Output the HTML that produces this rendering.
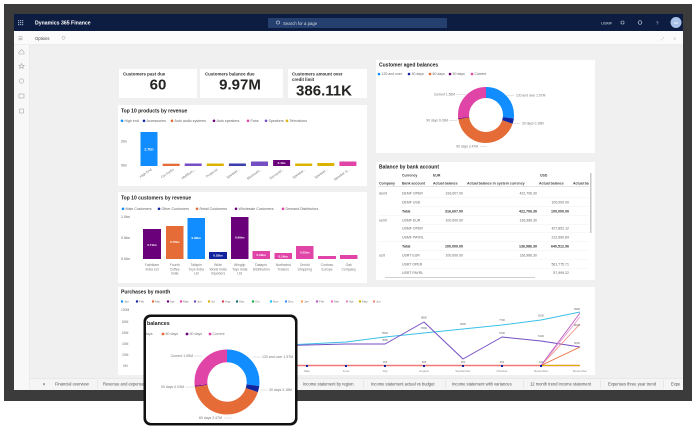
<!DOCTYPE html>
<html><head><meta charset="utf-8"><style>
html,body{margin:0;padding:0;background:#fff;width:696px;height:429px;overflow:hidden}
svg{display:block;font-family:"Liberation Sans",sans-serif}
</style></head><body>
<svg width="696" height="429" viewBox="0 0 696 429" xmlns="http://www.w3.org/2000/svg">
<defs>
<clipPath id="tab"><rect x="146" y="317" width="149" height="106" rx="5"/></clipPath>
<clipPath id="tbl"><rect x="376" y="162" width="213" height="118"/></clipPath>
</defs>
<rect width="696" height="429" fill="#fff"/>
<!-- monitor frame -->
<rect x="4" y="4" width="688" height="397" fill="#3b3b3b"/>
<rect x="14" y="14" width="669" height="376" fill="#f0f0f0"/>
<!-- top nav bar -->
<rect x="14" y="14" width="669" height="17" fill="#0d1d42"/>
<g fill="#9aa6c0">
<rect x="18" y="20" width="1.2" height="1.2"/><rect x="20" y="20" width="1.2" height="1.2"/><rect x="22" y="20" width="1.2" height="1.2"/>
<rect x="18" y="22" width="1.2" height="1.2"/><rect x="20" y="22" width="1.2" height="1.2"/><rect x="22" y="22" width="1.2" height="1.2"/>
<rect x="18" y="24" width="1.2" height="1.2"/><rect x="20" y="24" width="1.2" height="1.2"/><rect x="22" y="24" width="1.2" height="1.2"/>
</g>
<text x="35" y="24.5" font-size="5.2" font-weight="bold" fill="#fff">Dynamics 365 Finance</text>
<rect x="268" y="18" width="179" height="10" fill="#253f6e"/>
<circle cx="278" cy="22.5" r="1.6" fill="none" stroke="#c9d2e3" stroke-width="0.6"/>
<text x="283" y="24.8" font-size="4.3" fill="#d5dbe8">Search for a page</text>
<text x="601" y="24.5" font-size="4" fill="#d5dbe8">USMF</text>
<rect x="621" y="21" width="3" height="3" fill="none" stroke="#c9d2e3" stroke-width="0.6" rx="1"/>
<circle cx="640" cy="22.5" r="1.8" fill="none" stroke="#c9d2e3" stroke-width="0.7"/>
<text x="656" y="24.5" font-size="4.5" fill="#d5dbe8">?</text>
<circle cx="676" cy="22.5" r="5.5" fill="#a9c2e8"/>
<text x="676" y="24" font-size="3" fill="#fff" text-anchor="middle">AD</text>
<!-- options bar -->
<rect x="14" y="31" width="669" height="14" fill="#fbfbfb"/>
<rect x="14" y="44.5" width="669" height="0.7" fill="#e2e2e2"/>
<g fill="#9a9a9a"><rect x="18.5" y="36.5" width="4" height="0.6"/><rect x="18.5" y="38" width="4" height="0.6"/><rect x="18.5" y="39.5" width="4" height="0.6"/></g>
<text x="35" y="39.8" font-size="4.2" fill="#444">Options</text>
<circle cx="63.5" cy="37.8" r="1.5" fill="none" stroke="#aaa" stroke-width="0.5"/>
<text x="661" y="40" font-size="4" fill="#bbb">⤢</text>
<text x="673" y="40" font-size="4" fill="#bbb">✕</text>
<!-- left sidebar -->
<rect x="14" y="45" width="15" height="345" fill="#f8f8f8"/>
<rect x="29" y="45" width="0.6" height="345" fill="#e6e6e6"/>
<g fill="none" stroke="#a8a8a8" stroke-width="0.6">
<path d="M19 52 L21.5 49.5 L24 52 V54 H19 Z"/>
<path d="M21.5 63.5 L22.3 65.3 L24.2 65.4 L22.8 66.6 L23.3 68.4 L21.5 67.4 L19.7 68.4 L20.2 66.6 L18.8 65.4 L20.7 65.3 Z"/>
<circle cx="21.5" cy="81" r="2.2"/>
<rect x="19" y="94" width="5" height="4"/>
<rect x="19.5" y="109" width="4" height="4"/>
</g>
<!-- tab bar -->
<rect x="29.6" y="378" width="653.4" height="12" fill="#f5f5f5"/>
<rect x="29.6" y="378" width="653.4" height="0.6" fill="#e0e0e0"/>
<g font-size="4.1" fill="#555">
<text x="43" y="385.5">▾</text>
<text x="55" y="385.5">Financial overview</text>
<text x="103" y="385.5">Revenue and expenses</text>
<text x="303" y="385.5">Income statement by region</text>
<text x="371" y="385.5">Income statement actual vs budget</text>
<text x="452" y="385.5">Income statement with variances</text>
<text x="530" y="385.5">12 month trend income statement</text>
<text x="608" y="385.5">Expenses three year trend</text>
<text x="671" y="385.5">Expe</text>
</g>
<g fill="#d6d6d6"><rect x="97" y="380" width="0.5" height="8"/><rect x="363" y="380" width="0.5" height="8"/><rect x="445" y="380" width="0.5" height="8"/><rect x="523" y="380" width="0.5" height="8"/><rect x="600" y="380" width="0.5" height="8"/><rect x="663" y="380" width="0.5" height="8"/></g>

<!-- KPI cards -->
<rect x="119" y="69" width="78" height="29" fill="#fff"/>
<rect x="200" y="69" width="83" height="29" fill="#fff"/>
<rect x="288" y="69" width="79" height="29" fill="#fff"/>
<g font-size="4.4" font-weight="600" fill="#333">
<text x="123" y="75.5">Customers past due</text>
<text x="205" y="75.5">Customers balance due</text>
<text x="292" y="75.5">Customers amount over</text>
<text x="292" y="80.8">credit limit</text>
</g>
<g font-size="15" font-weight="bold" fill="#252423" text-anchor="middle">
<text x="158" y="89.5">60</text>
<text x="240" y="89.5">9.97M</text>
<text x="324" y="95.5" font-size="15">386.11K</text>
</g>

<!-- Top 10 products -->
<rect x="118" y="105" width="249" height="81" fill="#fff"/>
<text x="121" y="112.5" font-size="5" font-weight="bold" fill="#252423">Top 10 products by revenue</text>
<g font-size="3.6" fill="#666">
<circle cx="122" cy="120.8" r="1.3" fill="#118DFF"/><text x="124.5" y="122">High end</text>
<circle cx="144" cy="120.8" r="1.3" fill="#12239E"/><text x="146.5" y="122">Accessories</text>
<circle cx="172" cy="120.8" r="1.3" fill="#E66C37"/><text x="174.5" y="122">Auto audio systems</text>
<circle cx="214" cy="120.8" r="1.3" fill="#6B007B"/><text x="216.5" y="122">Auto speakers</text>
<circle cx="248" cy="120.8" r="1.3" fill="#E044A7"/><text x="250.5" y="122">Fans</text>
<circle cx="266" cy="120.8" r="1.3" fill="#744EC2"/><text x="268.5" y="122">Speakers</text>
<circle cx="287" cy="120.8" r="1.3" fill="#D9B300"/><text x="289.5" y="122">Televisions</text>
<text x="121" y="142.5">2bn</text>
<text x="121" y="166.5">0bn</text>
</g>
<g>
<rect x="140.5" y="132" width="17" height="34" fill="#118DFF"/>
<rect x="162.6" y="163.7" width="17" height="2.3" fill="#E66C37"/>
<rect x="184.7" y="163.5" width="17" height="2.5" fill="#744EC2"/>
<rect x="206.8" y="163.5" width="17" height="2.5" fill="#D9B300"/>
<rect x="228.9" y="163.5" width="17" height="2.5" fill="#3B3EAC"/>
<rect x="251" y="161.5" width="17" height="4.5" fill="#744EC2"/>
<rect x="273.1" y="160" width="17" height="6" fill="#6B007B"/>
<rect x="295.2" y="163.5" width="17" height="2.5" fill="#D9B300"/>
<rect x="317.3" y="163" width="17" height="3" fill="#D9B300"/>
<rect x="339.4" y="161.5" width="17" height="4.5" fill="#E044A7"/>
</g>
<text x="149" y="150.5" font-size="3.5" font-weight="bold" fill="#fff" text-anchor="middle">2.7bn</text>
<text x="281.6" y="164.2" font-size="3" font-weight="bold" fill="#fff" text-anchor="middle">0.4bn</text>
<g font-size="3.4" fill="#777" text-anchor="end">
<text transform="translate(152,170) rotate(-35)">High End</text>
<text transform="translate(174,170) rotate(-35)">Car Audio</text>
<text transform="translate(196,170) rotate(-35)">Multifunc...</text>
<text transform="translate(218,170) rotate(-35)">Projector</text>
<text transform="translate(240,170) rotate(-35)">Speaker...</text>
<text transform="translate(262,170) rotate(-35)">Bluetooth...</text>
<text transform="translate(284,170) rotate(-35)">Surround...</text>
<text transform="translate(306,170) rotate(-35)">Speaker...</text>
<text transform="translate(328,170) rotate(-35)">Speaker...</text>
<text transform="translate(350,170) rotate(-35)">Speaker S...</text>
</g>

<!-- Top 10 customers -->
<rect x="118" y="192" width="249" height="91" fill="#fff"/>
<text x="121" y="199.5" font-size="5" font-weight="bold" fill="#252423">Top 10 customers by revenue</text>
<g font-size="3.6" fill="#666">
<circle cx="123" cy="208.8" r="1.3" fill="#118DFF"/><text x="125.5" y="210">Main Customers</text>
<circle cx="159" cy="208.8" r="1.3" fill="#12239E"/><text x="161.5" y="210">Other Customers</text>
<circle cx="197" cy="208.8" r="1.3" fill="#E66C37"/><text x="199.5" y="210">Retail Customers</text>
<circle cx="236" cy="208.8" r="1.3" fill="#6B007B"/><text x="238.5" y="210">Wholesale Customers</text>
<circle cx="283" cy="208.8" r="1.3" fill="#E044A7"/><text x="285.5" y="210">Demand Distributors</text>
<text x="121" y="218">1.0bn</text>
<text x="121" y="239">0.5bn</text>
<text x="121" y="260">0.0bn</text>
</g>
<g>
<rect x="143" y="229" width="18" height="30" fill="#6B007B"/>
<rect x="166" y="226" width="17.5" height="33" fill="#E66C37"/>
<rect x="187.5" y="218" width="17.5" height="41" fill="#118DFF"/>
<rect x="209" y="252" width="18" height="7" fill="#12239E"/>
<rect x="231" y="217" width="17.5" height="42" fill="#6B007B"/>
<rect x="252.5" y="251" width="17.5" height="8" fill="#E044A7"/>
<rect x="274.5" y="253" width="17.5" height="6" fill="#E044A7"/>
<rect x="296" y="246" width="17.5" height="13" fill="#E044A7"/>
<rect x="318" y="256" width="18" height="3" fill="#E044A7"/>
<rect x="340" y="255" width="17.5" height="4" fill="#E044A7"/>
</g>
<g font-size="3" font-weight="bold" fill="#fff" text-anchor="middle">
<text x="152" y="246">0.71bn</text>
<text x="174.7" y="243">0.75bn</text>
<text x="196.2" y="239">0.96bn</text>
<text x="218" y="256.5">0.18bn</text>
<text x="239.7" y="238.5">0.99bn</text>
<text x="261.2" y="256">0.19bn</text>
<text x="283.2" y="257.5">0.14bn</text>
<text x="304.7" y="253.5">0.32bn</text>
</g>
<g font-size="3.4" fill="#777" text-anchor="middle">
<text x="152" y="266">Fabrikam</text><text x="152" y="270.3">India Ltd</text>
<text x="174.7" y="266">Fourth</text><text x="174.7" y="270.3">Coffee</text><text x="174.7" y="274.6">India</text>
<text x="196.2" y="266">Tailspin</text><text x="196.2" y="270.3">Toys India</text><text x="196.2" y="274.6">Ltd</text>
<text x="218" y="266">Wide</text><text x="218" y="270.3">World India</text><text x="218" y="274.6">Importers</text>
<text x="239.7" y="266">Wingtip</text><text x="239.7" y="270.3">Toys India</text><text x="239.7" y="274.6">Ltd</text>
<text x="261.2" y="266">Datapro</text><text x="261.2" y="270.3">Distribution</text>
<text x="283.2" y="266">Northwind</text><text x="283.2" y="270.3">Traders</text>
<text x="304.7" y="266">Orchid</text><text x="304.7" y="270.3">Shopping</text>
<text x="327" y="266">Contoso</text><text x="327" y="270.3">Europe</text>
<text x="348.7" y="266">Oak</text><text x="348.7" y="270.3">Company</text>
</g>

<!-- Customer aged balances -->
<rect x="376" y="60" width="219" height="93" fill="#fff"/>
<text x="379" y="66.5" font-size="5" font-weight="bold" fill="#252423">Customer aged balances</text>
<g font-size="3.5" fill="#666">
<circle cx="379" cy="74" r="1.3" fill="#118DFF"/><text x="381.5" y="75.2">120 and over</text>
<circle cx="409" cy="74" r="1.3" fill="#12239E"/><text x="411.5" y="75.2">30 days</text>
<circle cx="430" cy="74" r="1.3" fill="#E66C37"/><text x="432.5" y="75.2">60 days</text>
<circle cx="450" cy="74" r="1.3" fill="#6B007B"/><text x="452.5" y="75.2">90 days</text>
<circle cx="472" cy="74" r="1.3" fill="#E044A7"/><text x="474.5" y="75.2">Current</text>
</g>
<g fill="none" stroke-width="11" transform="rotate(-90 486 115)">
<circle cx="486" cy="115" r="22.5" stroke="#118DFF" stroke-dasharray="38.09 200" stroke-dashoffset="0"/>
<circle cx="486" cy="115" r="22.5" stroke="#12239E" stroke-dasharray="4.32 200" stroke-dashoffset="-38.09"/>
<circle cx="486" cy="115" r="22.5" stroke="#E66C37" stroke-dasharray="60.08 200" stroke-dashoffset="-42.41"/>
<circle cx="486" cy="115" r="22.5" stroke="#6B007B" stroke-dasharray="0.79 200" stroke-dashoffset="-102.49"/>
<circle cx="486" cy="115" r="22.5" stroke="#E044A7" stroke-dasharray="38.1 200" stroke-dashoffset="-103.27"/>
</g>
<g stroke="#bbb" stroke-width="0.4">
<line x1="456" y1="94.3" x2="466" y2="94.3"/>
<line x1="505" y1="95.3" x2="514" y2="95.3"/>
<line x1="513" y1="123.5" x2="520" y2="123.5"/>
<line x1="449" y1="120.5" x2="457" y2="120.5"/>
<line x1="480" y1="146.5" x2="487" y2="146.5"/>
</g>
<g font-size="3.3" fill="#777">
<text x="455" y="95.5" text-anchor="end">Current 1.55M</text>
<text x="516" y="96.5">120 and over 1.57M</text>
<text x="522" y="124.7">30 days 0.18M</text>
<text x="448" y="121.7" text-anchor="end">90 days 0.03M</text>
<text x="478" y="147.7" text-anchor="end">60 days 2.47M</text>
</g>

<!-- Balance by bank account -->
<rect x="376" y="162" width="219" height="118" fill="#fff"/>
<text x="379" y="168.5" font-size="5" font-weight="bold" fill="#252423">Balance by bank account</text>
<g clip-path="url(#tbl)">
<g font-size="3.5" font-weight="600" fill="#444">
<text x="402" y="176.5">Currency</text>
<text x="433" y="176.5">EUR</text>
<text x="540" y="176.5">USD</text>
<text x="379" y="184.5">Company</text>
<text x="402" y="184.5">Bank account</text>
<text x="433" y="184.5">Actual balance</text>
<text x="467" y="184.5">Actual balance in system currency</text>
<text x="539" y="184.5">Actual balance</text>
<text x="573" y="184.5">Actual balance</text>
</g>
<rect x="378" y="186.5" width="212" height="0.5" fill="#ccc"/>
<g fill="#eee">
<rect x="400" y="197" width="190" height="0.4"/><rect x="400" y="206" width="190" height="0.4"/><rect x="378" y="215" width="212" height="0.4"/>
<rect x="400" y="224" width="190" height="0.4"/><rect x="400" y="232" width="190" height="0.4"/><rect x="378" y="241" width="212" height="0.4"/>
<rect x="400" y="250" width="190" height="0.4"/><rect x="400" y="259" width="190" height="0.4"/><rect x="400" y="268" width="190" height="0.4"/>
</g>
<g font-size="3.5" fill="#666">
<text x="379" y="194.5">demf</text>
<text x="379" y="221.5">usmf</text>
<text x="379" y="256.5">usrt</text>
<text x="402" y="194.5">DEMF OPER</text>
<text x="402" y="203.5">DEMF USD</text>
<text x="402" y="221.5">USMF EUR</text>
<text x="402" y="229.5">USMF OPER</text>
<text x="402" y="238.5">USMF PAYRL</text>
<text x="402" y="256.5">USRT EUR</text>
<text x="402" y="265.5">USRT OPER</text>
<text x="402" y="274">USRT PAYRL</text>
</g>
<g font-size="3.5" fill="#666" text-anchor="end">
<text x="463" y="194.5">316,607.00</text><text x="537" y="194.5">422,706.30</text>
<text x="569" y="203.5">100,000.00</text>
<text x="463" y="221.5">100,000.00</text><text x="537" y="221.5">136,986.30</text>
<text x="569" y="229.5">427,852.12</text>
<text x="569" y="238.5">212,660.84</text>
<text x="463" y="256.5">100,000.00</text><text x="537" y="256.5">136,986.30</text>
<text x="569" y="265.5">561,775.71</text>
<text x="569" y="274">57,999.22</text>
</g>
<g font-size="3.6" font-weight="bold" fill="#333">
<text x="402" y="212.5">Total</text>
<text x="463" y="212.5" text-anchor="end">316,607.00</text>
<text x="537" y="212.5" text-anchor="end">422,706.30</text>
<text x="569" y="212.5" text-anchor="end">100,000.00</text>
<text x="402" y="247.5">Total</text>
<text x="463" y="247.5" text-anchor="end">100,000.00</text>
<text x="537" y="247.5" text-anchor="end">136,986.30</text>
<text x="569" y="247.5" text-anchor="end">640,512.96</text>
</g>
</g>
<rect x="590" y="173" width="1.5" height="60" fill="#c8c8c8"/>
<rect x="385" y="277" width="150" height="1" fill="#d0d0d0"/>

<!-- Purchases by month -->
<rect x="118" y="287" width="477" height="88" fill="#fff"/>
<text x="121" y="293.5" font-size="5" font-weight="bold" fill="#252423">Purchases by month</text>
<g font-size="3" fill="#777">
<circle cx="122" cy="301.5" r="1.2" fill="#118DFF"/><text x="124" y="302.6">Jan</text>
<circle cx="137" cy="301.5" r="1.2" fill="#12239E"/><text x="139" y="302.6">Feb</text>
<circle cx="153" cy="301.5" r="1.2" fill="#E66C37"/><text x="155" y="302.6">Mar</text>
<circle cx="168" cy="301.5" r="1.2" fill="#6B007B"/><text x="170" y="302.6">Apr</text>
<circle cx="181" cy="301.5" r="1.2" fill="#E044A7"/><text x="183" y="302.6">May</text>
<circle cx="195" cy="301.5" r="1.2" fill="#744EC2"/><text x="197" y="302.6">Jun</text>
<circle cx="209" cy="301.5" r="1.2" fill="#D9B300"/><text x="211" y="302.6">Jul</text>
<circle cx="223" cy="301.5" r="1.2" fill="#D64550"/><text x="225" y="302.6">Aug</text>
<circle cx="237" cy="301.5" r="1.2" fill="#197278"/><text x="239" y="302.6">Sep</text>
<circle cx="253" cy="301.5" r="1.2" fill="#1AAB40"/><text x="255" y="302.6">Oct</text>
<circle cx="271" cy="301.5" r="1.2" fill="#15C6F4"/><text x="273" y="302.6">Nov</text>
<circle cx="286" cy="301.5" r="1.2" fill="#4092FF"/><text x="288" y="302.6">Dec</text>
<circle cx="302" cy="301.5" r="1.2" fill="#FFA058"/><text x="304" y="302.6">Jan</text>
<circle cx="317" cy="301.5" r="1.2" fill="#BE5DC9"/><text x="319" y="302.6">Feb</text>
<circle cx="332" cy="301.5" r="1.2" fill="#F472D0"/><text x="334" y="302.6">Mar</text>
<circle cx="347" cy="301.5" r="1.2" fill="#E88DC8"/><text x="349" y="302.6">Apr</text>
<circle cx="360" cy="301.5" r="1.2" fill="#D9B300"/><text x="362" y="302.6">May</text>
<circle cx="374" cy="301.5" r="1.2" fill="#F28B82"/><text x="376" y="302.6">Jun</text>
</g>
<g font-size="3.3" fill="#777">
<text x="121" y="311">100M</text>
<text x="122" y="323">80M</text>
<text x="122" y="334">60M</text>
<text x="122" y="345">40M</text>
<text x="122" y="356">20M</text>
<text x="123" y="367">0M</text>
</g>
<g fill="none" stroke-linejoin="round">
<polyline stroke="#3CC0E8" stroke-width="1" points="151,349 190,348 229,347 268,346 307,344 346,342 385,337 424,333 463,329 502,325 541,320 580,312"/>
<polyline stroke="#744EC2" stroke-width="1" points="151,347 190,347 229,346 268,346 307,345 346,344 385,344 424,322 463,359 502,337 541,341 580,347"/>
<polyline stroke="#F07878" stroke-width="1.4" points="151,365.5 541,365.5 580,365.5"/>
<polyline stroke="#D9B300" stroke-width="0.9" points="541,365.5 580,365.5"/>
<polyline stroke="#E66C37" stroke-width="0.9" points="541,365.5 580,347"/>
<polyline stroke="#F28B82" stroke-width="0.9" points="541,365.5 580,324"/>
<polyline stroke="#E8A0D0" stroke-width="0.9" points="541,365.5 580,317"/>
<polyline stroke="#C05BC4" stroke-width="0.9" points="541,365.5 580,313"/>
</g>
<g fill="#12239E">
<rect x="150" y="365" width="2" height="2"/><rect x="189" y="365" width="2" height="2"/><rect x="228" y="365" width="2" height="2"/><rect x="267" y="365" width="2" height="2"/><rect x="306" y="365" width="2" height="2"/><rect x="345" y="365" width="2" height="2"/><rect x="384" y="365" width="2" height="2"/><rect x="423" y="365" width="2" height="2"/><rect x="462" y="365" width="2" height="2"/><rect x="501" y="365" width="2" height="2"/><rect x="540" y="365" width="2" height="2"/>
</g>
<g font-size="2.6" fill="#666" text-anchor="middle">
<text x="385" y="334">5500</text><text x="385" y="341">4500</text>
<text x="424" y="318.5">8800</text><text x="424" y="329">6500</text>
<text x="463" y="325">6900</text><text x="502" y="321">7700</text><text x="502" y="334">5700</text>
<text x="541" y="316.5">8100</text><text x="541" y="337">5100</text>
<text x="577" y="310">9900</text><text x="577" y="326">8000</text><text x="577" y="344">5000</text>
<text x="385" y="363">200</text><text x="424" y="363">200</text><text x="463" y="363">200</text><text x="502" y="363">200</text><text x="541" y="363">200</text>
</g>
<g font-size="3.1" fill="#888" text-anchor="middle">
<text x="151" y="372">January</text><text x="190" y="372">February</text><text x="229" y="372">March</text><text x="268" y="372">April</text>
<text x="307" y="372">May</text><text x="346" y="372">June</text><text x="385" y="372">July</text><text x="424" y="372">August</text>
<text x="463" y="372">September</text><text x="502" y="372">October</text><text x="541" y="372">November</text><text x="580" y="372">December</text>
</g>

<!-- Tablet overlay -->
<rect x="143.5" y="314.5" width="154" height="111" rx="7" fill="#111"/>
<rect x="146" y="317" width="149" height="106" rx="5" fill="#fff"/>
<g clip-path="url(#tab)">
<text x="147" y="325" font-size="5.3" font-weight="bold" fill="#252423">balances</text>
<g font-size="3.6" fill="#777">
<text x="145" y="335.2">days</text>
<circle cx="163" cy="334" r="1.4" fill="#E66C37"/><text x="165.5" y="335.2">60 days</text>
<circle cx="187" cy="334" r="1.4" fill="#6B007B"/><text x="189.5" y="335.2">90 days</text>
<circle cx="210" cy="334" r="1.4" fill="#E044A7"/><text x="212.5" y="335.2">Current</text>
</g>
<g fill="none" stroke-width="12.8" transform="rotate(-90 227 382)">
<circle cx="227" cy="382" r="26.1" stroke="#118DFF" stroke-dasharray="44.19 300" stroke-dashoffset="0"/>
<circle cx="227" cy="382" r="26.1" stroke="#12239E" stroke-dasharray="5.01 300" stroke-dashoffset="-44.19"/>
<circle cx="227" cy="382" r="26.1" stroke="#E66C37" stroke-dasharray="69.7 300" stroke-dashoffset="-49.2"/>
<circle cx="227" cy="382" r="26.1" stroke="#6B007B" stroke-dasharray="0.91 300" stroke-dashoffset="-118.9"/>
<circle cx="227" cy="382" r="26.1" stroke="#E044A7" stroke-dasharray="44.2 300" stroke-dashoffset="-119.81"/>
</g>
<g stroke="#bbb" stroke-width="0.4">
<line x1="194" y1="356" x2="202" y2="356"/>
<line x1="253" y1="357" x2="261" y2="357"/>
<line x1="260" y1="390" x2="268" y2="390"/>
<line x1="185" y1="387" x2="194" y2="387"/>
<line x1="224" y1="418" x2="232" y2="418"/>
</g>
<g font-size="3.5" fill="#777">
<text x="193" y="357.2" text-anchor="end">Current 1.55M</text>
<text x="262" y="358.2">120 and over 1.57M</text>
<text x="269" y="391.2">30 days 0.18M</text>
<text x="184" y="388.2" text-anchor="end">90 days 0.03M</text>
<text x="222" y="419.2" text-anchor="end">60 days 2.47M</text>
</g>
</g>
</svg>
</body></html>
